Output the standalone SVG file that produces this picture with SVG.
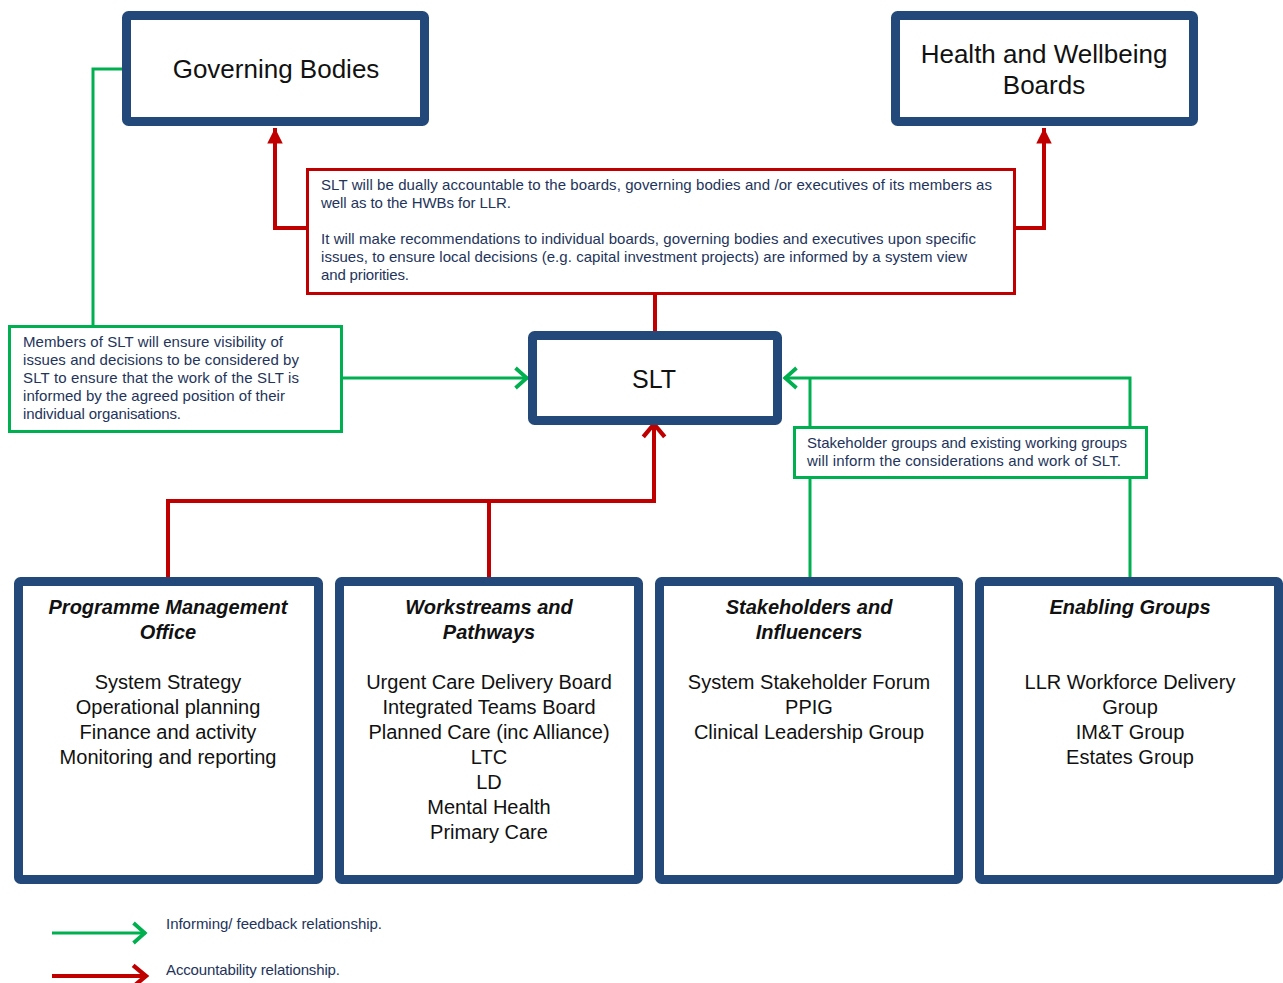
<svg xmlns="http://www.w3.org/2000/svg" width="1283" height="983" viewBox="0 0 1283 983">
<style>
.box{fill:#fff;stroke:#23497A;stroke-width:9}
.rbox{fill:#fff;stroke:#C00000;stroke-width:3}
.gbox{fill:#fff;stroke:#00B050;stroke-width:3}
.red{fill:none;stroke:#C00000;stroke-width:4}
.green{fill:none;stroke:#00B050;stroke-width:3}
.t{font-family:"Liberation Sans",Arial,sans-serif;fill:#111}
.big{font-size:26px;text-anchor:middle}
.head{font-size:20px;font-weight:bold;font-style:italic;text-anchor:middle}
.item{font-size:20px;text-anchor:middle}
.note{font-family:"Liberation Sans",Arial,sans-serif;font-size:15px;fill:#23345A}
</style>
<defs>
<marker id="redTri" markerUnits="userSpaceOnUse" markerWidth="20" markerHeight="20" viewBox="-16 -9 18 18" refX="0" refY="0" orient="auto">
<path d="M0,0 L-14,-7 L-14,7 Z" fill="#C00000"/>
</marker>
<marker id="redChev" markerUnits="userSpaceOnUse" markerWidth="30" markerHeight="30" viewBox="-16 -14 20 28" refX="0" refY="0" orient="auto">
<path d="M-12,-10 L0,0 L-12,10" fill="none" stroke="#C00000" stroke-width="4"/>
</marker>
<marker id="greenChev" markerUnits="userSpaceOnUse" markerWidth="30" markerHeight="30" viewBox="-14 -12 18 24" refX="0" refY="0" orient="auto">
<path d="M-10,-8 L-1,0 L-10,8" fill="none" stroke="#00B050" stroke-width="3"/>
</marker>
</defs>

<g id="connectors">
<polyline class="red" points="307,228 275,228 275,128" marker-end="url(#redTri)"/>
<polyline class="red" points="1015,228 1044,228 1044,128" marker-end="url(#redTri)"/>
<line class="red" x1="655" y1="294" x2="655" y2="333"/>
<polyline class="red" points="168,578 168,501 654,501 654,424" marker-end="url(#redChev)"/>
<line class="red" x1="489" y1="578" x2="489" y2="501"/>
<polyline class="green" points="122,69 93,69 93,326"/>
<line class="green" x1="342" y1="378" x2="528" y2="378" marker-end="url(#greenChev)"/>
<polyline class="green" points="1130,578 1130,378 784,378" marker-end="url(#greenChev)"/>
<line class="green" x1="810" y1="578" x2="810" y2="378"/>
</g>

<g id="governing-bodies">
<rect class="box" x="126.5" y="15.5" width="298" height="106" rx="2"/>
<text class="t big" x="276" y="78">Governing Bodies</text>
</g>

<g id="hwb">
<rect class="box" x="895.5" y="15.5" width="298" height="106" rx="2"/>
<text class="t big" x="1044" y="63">Health and Wellbeing</text>
<text class="t big" x="1044" y="94">Boards</text>
</g>

<g id="accountability-note">
<rect class="rbox" x="307.5" y="169.5" width="707" height="124"/>
<text class="note" x="321" y="190" textLength="671">SLT will be dually accountable to the boards, governing bodies and /or executives of its members as</text>
<text class="note" x="321" y="208" textLength="190">well as to the HWBs for LLR.</text>
<text class="note" x="321" y="244" textLength="655">It will make recommendations to individual boards, governing bodies and executives upon specific</text>
<text class="note" x="321" y="262" textLength="646">issues, to ensure local decisions (e.g. capital investment projects) are informed by a system view</text>
<text class="note" x="321" y="280" textLength="88">and priorities.</text>
</g>

<g id="members-note">
<rect class="gbox" x="9.5" y="326.5" width="332" height="105"/>
<text class="note" x="23" y="347" textLength="260">Members of SLT will ensure visibility of</text>
<text class="note" x="23" y="365" textLength="276">issues and decisions to be considered by</text>
<text class="note" x="23" y="383" textLength="276">SLT to ensure that the work of the SLT is</text>
<text class="note" x="23" y="401" textLength="262">informed by the agreed position of their</text>
<text class="note" x="23" y="419" textLength="158">individual organisations.</text>
</g>

<g id="slt">
<rect class="box" x="532.5" y="335.5" width="245" height="85" rx="2"/>
<text class="t big" x="654" y="388" style="font-size:25px">SLT</text>
</g>

<g id="stakeholder-note">
<rect class="gbox" x="794.5" y="427.5" width="352" height="50"/>
<text class="note" x="807" y="448" textLength="320">Stakeholder groups and existing working groups</text>
<text class="note" x="807" y="466" textLength="314">will inform the considerations and work of SLT.</text>
</g>

<g id="pmo">
<rect class="box" x="18.5" y="581.5" width="300" height="298" rx="2"/>
<text class="t head" x="168" y="614">Programme Management</text>
<text class="t head" x="168" y="639">Office</text>
<text class="t item" x="168" y="689">System Strategy</text>
<text class="t item" x="168" y="714">Operational planning</text>
<text class="t item" x="168" y="739">Finance and activity</text>
<text class="t item" x="168" y="764">Monitoring and reporting</text>
</g>

<g id="workstreams">
<rect class="box" x="339.5" y="581.5" width="299" height="298" rx="2"/>
<text class="t head" x="489" y="614">Workstreams and</text>
<text class="t head" x="489" y="639">Pathways</text>
<text class="t item" x="489" y="689">Urgent Care Delivery Board</text>
<text class="t item" x="489" y="714">Integrated Teams Board</text>
<text class="t item" x="489" y="739">Planned Care (inc Alliance)</text>
<text class="t item" x="489" y="764">LTC</text>
<text class="t item" x="489" y="789">LD</text>
<text class="t item" x="489" y="814">Mental Health</text>
<text class="t item" x="489" y="839">Primary Care</text>
</g>

<g id="stakeholders">
<rect class="box" x="659.5" y="581.5" width="299" height="298" rx="2"/>
<text class="t head" x="809" y="614">Stakeholders and</text>
<text class="t head" x="809" y="639">Influencers</text>
<text class="t item" x="809" y="689">System Stakeholder Forum</text>
<text class="t item" x="809" y="714">PPIG</text>
<text class="t item" x="809" y="739">Clinical Leadership Group</text>
</g>

<g id="enabling">
<rect class="box" x="979.5" y="581.5" width="299" height="298" rx="2"/>
<text class="t head" x="1130" y="614">Enabling Groups</text>
<text class="t item" x="1130" y="689">LLR Workforce Delivery</text>
<text class="t item" x="1130" y="714">Group</text>
<text class="t item" x="1130" y="739">IM&amp;T Group</text>
<text class="t item" x="1130" y="764">Estates Group</text>
</g>

<g id="legend">
<line class="green" x1="52" y1="933" x2="146" y2="933" marker-end="url(#greenChev)"/>
<text class="note" x="166" y="929" textLength="216">Informing/ feedback relationship.</text>
<line class="red" x1="52" y1="976" x2="146" y2="976" marker-end="url(#redChev)"/>
<text class="note" x="166" y="975" textLength="174">Accountability relationship.</text>
</g>
</svg>
